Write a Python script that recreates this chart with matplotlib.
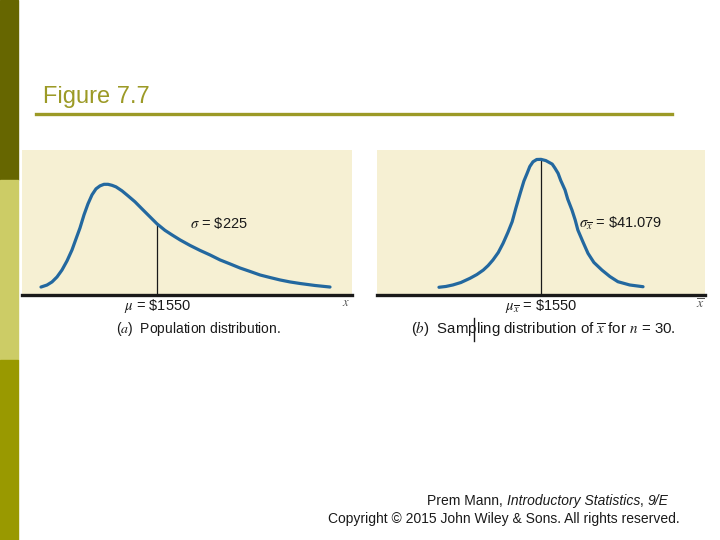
import numpy as np
import matplotlib.pyplot as plt
from matplotlib.patches import Rectangle
from matplotlib.lines import Line2D

plt.rcParams['font.family'] = ['Liberation Sans', 'DejaVu Sans']
plt.rcParams['mathtext.fontset'] = 'stix'

# ── data ──────────────────────────────────────────────────────
# (a) population distribution, right skewed (x in $, y relative height)
pop_x = [970, 1000, 1025, 1050, 1075, 1100, 1125, 1145, 1165, 1185, 1205,
         1225, 1245, 1265, 1285, 1305, 1325, 1345, 1375, 1405, 1440, 1475,
         1515, 1550, 1590, 1625, 1665, 1715, 1765, 1815, 1865, 1915, 1965,
         2015, 2065, 2115, 2165, 2215, 2265, 2340, 2415]
pop_y = [0.072, 0.090, 0.118, 0.163, 0.226, 0.308, 0.407, 0.507, 0.606, 0.724, 0.824,
         0.905, 0.959, 0.986, 1.0, 1.0, 0.991, 0.977, 0.941, 0.896, 0.842, 0.778,
         0.706, 0.643, 0.584, 0.543, 0.498, 0.448, 0.403, 0.362, 0.317, 0.281, 0.244,
         0.213, 0.181, 0.158, 0.136, 0.118, 0.104, 0.086, 0.072]

# (b) sampling distribution of x-bar, n = 30
samp_x = [1359, 1372, 1385, 1400, 1417, 1430, 1442, 1451, 1460, 1470, 1479,
          1488, 1496, 1503, 1511, 1518, 1524, 1529, 1535, 1542, 1550, 1559,
          1571, 1576, 1582, 1587, 1595, 1600, 1608, 1614, 1619, 1629, 1638,
          1649, 1664, 1679, 1694, 1716, 1741]
samp_y = [0.057, 0.063, 0.074, 0.092, 0.123, 0.151, 0.184, 0.217, 0.258, 0.313, 0.381,
          0.461, 0.540, 0.641, 0.749, 0.840, 0.897, 0.947, 0.982, 0.999, 1.0, 0.991,
          0.965, 0.936, 0.897, 0.844, 0.774, 0.707, 0.626, 0.553, 0.479, 0.387, 0.307,
          0.240, 0.184, 0.136, 0.098, 0.074, 0.061]

mu = 1550

BEIGE = '#f6f0d3'
BLUE = '#23689f'
OLIVE = '#9c9a26'
INK = '#1a1a1a'

fig = plt.figure(figsize=(7.2, 5.4), dpi=100, facecolor='white')

# ── left side bar (top -> bottom) ─────────────────────────────
for y_top, h, c in [(0, 180, '#666600'), (180, 180, '#cccc66'), (360, 180, '#999900')]:
    fig.patches.append(Rectangle((0, 1 - (y_top + h) / 540), 18 / 720, h / 540,
                                 transform=fig.transFigure, color=c, zorder=0))

# ── title ─────────────────────────────────────────────────────
fig.text(43 / 720, 1 - 97 / 540, 'Figure 7.7', color=OLIVE, fontsize=17,
         va='center', ha='left')
fig.lines.append(Line2D([36 / 720, 672 / 720], [1 - 114 / 540] * 2,
                        transform=fig.transFigure, color=OLIVE, lw=2.4))


def panel(rect, xs, ys, xlim, ylim):
    ax = fig.add_axes(rect)
    ax.set_facecolor(BEIGE)
    ax.plot(xs, ys, color=BLUE, lw=2.3, solid_capstyle='round',
            solid_joinstyle='round', zorder=3)
    ax.vlines(mu, 0, np.interp(mu, xs, ys), color=INK, lw=0.9, zorder=2)
    ax.set_xlim(*xlim)
    ax.set_ylim(*ylim)
    for s in ['top', 'left', 'right']:
        ax.spines[s].set_visible(False)
    ax.spines['bottom'].set_color(INK)
    ax.spines['bottom'].set_linewidth(2.4)
    ax.set_xticks([])
    ax.set_yticks([])
    return ax


# ── (a) ───────────────────────────────────────────────────────
ax_a = panel([22 / 720, 1 - 295 / 540, 330 / 720, 145 / 540],
             pop_x, pop_y, (875, 2525), (0, 1.31))
ax_a.text(1715, 0.65, r'$\sigma$ = \$225', fontsize=10.5, ha='left', va='center',
          color=INK)
fig.text(158 / 720, 1 - 306 / 540, r'$\mu$ = \$1550', fontsize=10.5,
         ha='center', va='center', color=INK)
fig.text(346 / 720, 1 - 303 / 540, r'$x$', fontsize=9, ha='center', va='center',
         color='#555555')
fig.text(198 / 720, 1 - 329 / 540, r'($a$)  Population distribution.',
         fontsize=10, ha='center', va='center', color=INK)

# ── (b) ───────────────────────────────────────────────────────
ax_b = panel([377 / 720, 1 - 295 / 540, 328 / 720, 145 / 540],
             samp_x, samp_y, (1243, 1857), (0, 1.069))
ax_b.text(1622, 0.53, r'$\sigma_{\overline{x}}$ = \$41.079', fontsize=10.5,
          ha='left', va='center', color=INK)
fig.text(541 / 720, 1 - 306 / 540, r'$\mu_{\overline{x}}$ = \$1550', fontsize=10.5,
         ha='center', va='center', color=INK)
fig.text(700 / 720, 1 - 304 / 540, r'$\overline{x}$', fontsize=10, ha='center',
         va='center', color='#555555')
fig.text(543 / 720, 1 - 329 / 540,
         r'($b$)  Sampling distribution of $\overline{x}$ for $n$ = 30.',
         fontsize=10.8, ha='center', va='center', color=INK)
fig.lines.append(Line2D([474 / 720] * 2, [1 - 318 / 540, 1 - 341 / 540],
                        transform=fig.transFigure, color=INK, lw=1))

# ── footer ────────────────────────────────────────────────────
# pieces chained so each one starts where the previous one ends
parts = [('Introductory Statistics', 'italic'), (', ', 'normal'), ('9/E', 'italic')]
prev = fig.text(427 / 720, 1 - 508 / 540, 'Prem Mann, ', fontsize=10, ha='left',
                va='bottom', color=INK)
for s, st in parts:
    prev = plt.annotate(s, xy=(1, 0), xycoords=prev, xytext=(0, 0),
                        textcoords='offset points', fontsize=10, style=st,
                        ha='left', va='bottom', color=INK, annotation_clip=False)
fig.text(680 / 720, 1 - 519 / 540,
         'Copyright © 2015 John Wiley & Sons. All rights reserved.',
         fontsize=10, ha='right', va='center', color=INK)

fig.savefig('out.png', dpi=100, facecolor='white')
